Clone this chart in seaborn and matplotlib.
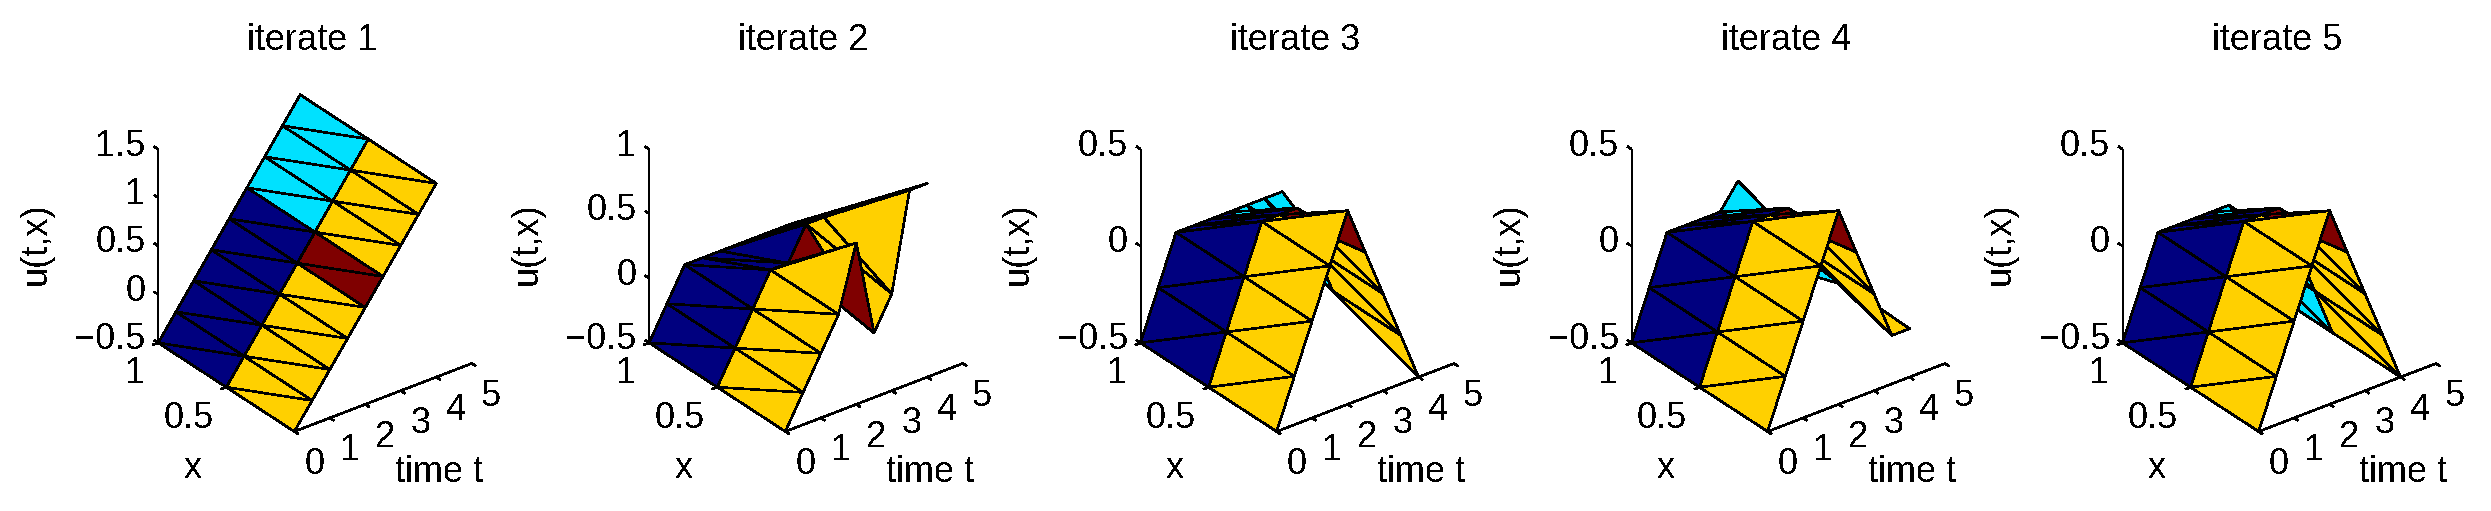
import matplotlib
matplotlib.use("Agg")
import matplotlib.pyplot as plt
import numpy as np
import seaborn as sns
from mpl_toolkits.mplot3d import proj3d

# grid of the solution
t_nodes = [0, 0.5, 1, 1.5, 2, 2.5, 3, 3.5, 4]
x_nodes = [0, 0.5, 1]

# u(t,x) for every iterate, one list per x node
iter1_x0 = [-0.5, -0.25, 0, 0.25, 0.5, 0.75, 1, 1.25, 1.5]
iter1_x1 = [-0.5, -0.25, 0, 0.25, 0.5, 0.75, 1, 1.25, 1.5]
iter1_x2 = [-0.5, -0.25, 0, 0.25, 0.5, 0.75, 1, 1.25, 1.5]

iter2_x0 = [-0.5, -0.25, 0, 0.25, 0.75, 0, 0.25, 1, 1]
iter2_x1 = [-0.5, -0.25, 0, 0.25, 0.25, 0.5, 0.5, 0.5, 0.5]
iter2_x2 = [-0.5, -0.25, 0, 0, 0, 0, 0, 0, 0]

iter3_x0 = [-0.5, -0.25, 0, 0.25, 0.5, 0.25, 0, -0.25, -0.5]
iter3_x1 = [-0.5, -0.25, 0, 0.25, 0.25, 0.25, 0, -0.25, -0.25]
iter3_x2 = [-0.5, -0.25, 0, 0, 0, 0, 0, 0, 0]

iter4_x0 = [-0.5, -0.25, 0, 0.25, 0.5, 0.25, 0, -0.25, -0.25]
iter4_x1 = [-0.5, -0.25, 0, 0.25, 0.25, 0.25, 0, -0.14, -0.25]
iter4_x2 = [-0.5, -0.25, 0, 0, 0, 0, 0.125, -0.125, -0.375]

iter5_x0 = [-0.5, -0.25, 0, 0.25, 0.5, 0.25, 0, -0.25, -0.5]
iter5_x1 = [-0.5, -0.25, 0, 0.25, 0.25, 0.25, 0, -0.25, -0.5]
iter5_x2 = [-0.5, -0.25, 0, 0, 0, 0, 0, -0.25, -0.5]

iterates = [
    [iter1_x0, iter1_x1, iter1_x2],
    [iter2_x0, iter2_x1, iter2_x2],
    [iter3_x0, iter3_x1, iter3_x2],
    [iter4_x0, iter4_x1, iter4_x2],
    [iter5_x0, iter5_x1, iter5_x2],
]

z_ticks = [
    [-0.5, 0, 0.5, 1, 1.5],
    [-0.5, 0, 0.5, 1],
    [-0.5, 0, 0.5],
    [-0.5, 0, 0.5],
    [-0.5, 0, 0.5],
]
t_ticks = [0, 1, 2, 3, 4, 5]
x_ticks = [0.5, 1]

NAVY = "#00007f"
CYAN = "#00e1ff"
YELLOW = "#ffd000"
DARKRED = "#7f0000"

# face colour of each time step, per strip of the mesh
strip_front = [YELLOW, YELLOW, YELLOW, YELLOW, DARKRED, YELLOW, YELLOW, YELLOW]
strip_back = [NAVY, NAVY, NAVY, NAVY, NAVY, CYAN, CYAN, CYAN]

FONT_SIZE = 26
LW = 1.15
W, H = 2491, 511
AX_SIZE = 376
AX_BOTTOM = 61.6
AX_LEFTS = [121.9, 612.9, 1104.2, 1595.2, 2086.2]

sns.set_theme(style="white", rc={"text.color": "black", "axes.titlecolor": "black",
                                 "text.antialiased": False})
plt.rcParams["font.family"] = ["Liberation Sans", "DejaVu Sans"]


def note(ax, s, t, x, u, dx, dy, **kw):
    """Text placed dx, dy pixels away from a point of the 3D box."""
    px, py, _ = proj3d.proj_transform(t, x, u, ax.get_proj())
    ax.annotate(s, xy=(px, py), xytext=(dx, dy), textcoords="offset pixels",
                fontsize=FONT_SIZE, annotation_clip=False, **kw)


def draw_iterate(ax, rows, zt, title):
    tt, xx = np.meshgrid(t_nodes, x_nodes)
    uu = np.array(rows, dtype=float)
    n = len(t_nodes)

    tris = []
    colors = []
    for col, strip in enumerate([strip_front, strip_back]):
        for k, c in enumerate(strip):
            low = col * n + k    # x_nodes[col], t_nodes[k]
            high = low + n       # x_nodes[col + 1], t_nodes[k]
            tris.append([high, low, low + 1])
            tris.append([high, high + 1, low + 1])
            colors += [c, c]

    surf = ax.plot_trisurf(tt.ravel(), xx.ravel(), uu.ravel(), triangles=tris,
                           shade=False, linewidth=LW, edgecolor="black",
                           antialiased=False, zorder=3)
    surf.set_facecolor(colors)
    surf.set_edgecolor("black")

    zmin, zmax = zt[0], zt[-1]
    ax.set_xlim(0, 5, view_margin=0)
    ax.set_ylim(0, 1, view_margin=0)
    ax.set_zlim(zmin, zmax, view_margin=0)
    ax.set_box_aspect((1, 1, 1))
    ax.view_init(elev=30, azim=-127.5)
    ax.set_axis_off()

    # the three axis lines, MATLAB style
    line = dict(color="black", lw=LW, zorder=1, solid_capstyle="butt", antialiased=False)
    ax.plot([0, 0], [1, 1], [zmin, zmax], **line)
    ax.plot([0, 0], [0, 1], [zmin, zmin], **line)
    ax.plot([0, 5], [0, 0], [zmin, zmin], **line)
    for v in zt:
        ax.plot([0, 0], [1, 1.03], [v, v], **line)
        lab = f"{v:g}".replace("-", "\u2212")
        note(ax, lab, 0, 1, v, -12.5, 3, ha="right", va="center")
    for v in t_ticks:
        ax.plot([v, v], [0, -0.03], [zmin, zmin], **line)
        note(ax, f"{v:g}", v, 0, zmin, 20, -33, ha="center", va="center")
    for v in x_ticks:
        ax.plot([0, -0.15], [v, v], [zmin, zmin], **line)
        note(ax, f"{v:g}", 0, v, zmin, -13, -31, ha="right", va="center")

    note(ax, "x", 0, 0.5, zmin, -34, -81, ha="center", va="center")
    note(ax, "time t", 2.5, 0, zmin, 56, -75, ha="center", va="center")
    note(ax, "u(t,x)", 0, 1, (zmin + zmax) / 2, -122, 2, ha="center", va="center", rotation=90)
    ax.set_title(title, fontsize=FONT_SIZE, pad=16.6, x=0.507)


def main():
    fig = plt.figure(figsize=(W / 100, H / 100), dpi=100, facecolor="white")
    for i, rows in enumerate(iterates):
        ax = fig.add_axes([AX_LEFTS[i] / W, AX_BOTTOM / H, AX_SIZE / W, AX_SIZE / H],
                          projection="3d", proj_type="ortho")
        ax.computed_zorder = False
        draw_iterate(ax, rows, z_ticks[i], f"iterate {i + 1}")
    fig.savefig("out.png", dpi=100)


if __name__ == "__main__":
    main()
